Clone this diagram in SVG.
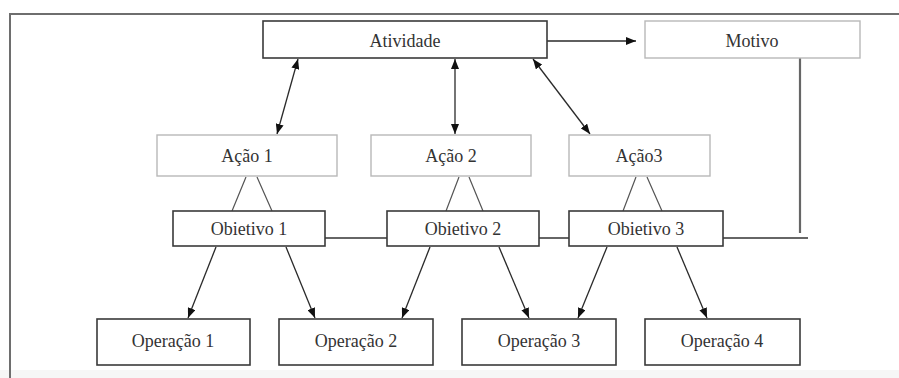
<svg xmlns="http://www.w3.org/2000/svg" width="899" height="378" viewBox="0 0 899 378">
  <style>
    .dark { fill: #ffffff; stroke: #3a3a3a; stroke-width: 1.6; }
    .light { fill: #ffffff; stroke: #b8b8b8; stroke-width: 1.4; }
    .lbl { font-family: "Liberation Serif", "Times New Roman", serif; font-size: 18px; fill: #333333; text-anchor: middle; }
    .arr { stroke: #2a2a2a; stroke-width: 1.3; fill: none; }
    .ln { stroke: #555555; stroke-width: 1.2; fill: none; }
    .gl { stroke: #666666; stroke-width: 2.2; fill: none; }
  </style>
  <defs>
    <marker id="ah" viewBox="0 0 10 8" refX="10" refY="4" markerWidth="10" markerHeight="8" markerUnits="userSpaceOnUse" orient="auto-start-reverse">
      <path d="M0,0 L10,4 L0,8 z" fill="#111111"/>
    </marker>
  </defs>
  <rect x="0" y="0" width="899" height="378" fill="#ffffff"/>
  <rect x="0" y="370" width="899" height="8" fill="#f6f6f6"/>
  <g id="frame">
    <path d="M10,378 L10,14 L899,14" fill="none" stroke="#6e6e6e" stroke-width="2"/>
  </g>
  <g id="connectors">
    <path class="arr" d="M547,41 L636,41" marker-end="url(#ah)"/>
    <path class="arr" d="M298,59 L277,134" marker-start="url(#ah)" marker-end="url(#ah)"/>
    <path class="arr" d="M455,59 L455,134" marker-start="url(#ah)" marker-end="url(#ah)"/>
    <path class="arr" d="M533,59 L590,134" marker-start="url(#ah)" marker-end="url(#ah)"/>
    <path class="ln" d="M246,177 L232,211 M257,177 L272,211"/>
    <path class="ln" d="M459,177 L446,211 M469,177 L483,211"/>
    <path class="ln" d="M636,177 L623,211 M647,177 L662,211"/>
    <path class="gl" d="M325,238 L387,238 M539,238 L569,238 M723,238 L808,238"/>
    <path class="gl" d="M800,58 L800,233" stroke-width="1.6"/>
    <path class="arr" d="M216,247 L188,318" marker-end="url(#ah)"/>
    <path class="arr" d="M286,247 L315,318" marker-end="url(#ah)"/>
    <path class="arr" d="M430,247 L402,318" marker-end="url(#ah)"/>
    <path class="arr" d="M499,247 L529,318" marker-end="url(#ah)"/>
    <path class="arr" d="M607,247 L578,318" marker-end="url(#ah)"/>
    <path class="arr" d="M677,247 L707,318" marker-end="url(#ah)"/>
  </g>
  <g id="atividade">
    <rect class="dark" x="263" y="21" width="284" height="37" stroke-width="2.2"/>
    <text class="lbl" x="405" y="47">Atividade</text>
  </g>
  <g id="motivo">
    <rect class="light" x="645" y="21" width="215" height="37"/>
    <text class="lbl" x="752" y="47">Motivo</text>
  </g>
  <g id="acao1">
    <rect class="light" x="157" y="135" width="180" height="41"/>
    <text class="lbl" x="247" y="162">Ação 1</text>
  </g>
  <g id="acao2">
    <rect class="light" x="371" y="135" width="160" height="41"/>
    <text class="lbl" x="451" y="162">Ação 2</text>
  </g>
  <g id="acao3">
    <rect class="light" x="569" y="135" width="141" height="41"/>
    <text class="lbl" x="639" y="162">Ação3</text>
  </g>
  <g id="objetivo1">
    <rect class="dark" x="173" y="211" width="152" height="35"/>
    <text class="lbl" x="249" y="235">Obietivo 1</text>
  </g>
  <g id="objetivo2">
    <rect class="dark" x="387" y="211" width="152" height="35"/>
    <text class="lbl" x="463" y="235">Obietivo 2</text>
  </g>
  <g id="objetivo3">
    <rect class="dark" x="569" y="211" width="154" height="35"/>
    <text class="lbl" x="646" y="235">Obietivo 3</text>
  </g>
  <g id="operacao1">
    <rect class="dark" x="97" y="319" width="153" height="46"/>
    <text class="lbl" x="173" y="347">Operação 1</text>
  </g>
  <g id="operacao2">
    <rect class="dark" x="279" y="319" width="154" height="46"/>
    <text class="lbl" x="356" y="347">Operação 2</text>
  </g>
  <g id="operacao3">
    <rect class="dark" x="462" y="319" width="154" height="46"/>
    <text class="lbl" x="539" y="347">Operação 3</text>
  </g>
  <g id="operacao4">
    <rect class="dark" x="645" y="319" width="155" height="46"/>
    <text class="lbl" x="722" y="347">Operação 4</text>
  </g>
</svg>
